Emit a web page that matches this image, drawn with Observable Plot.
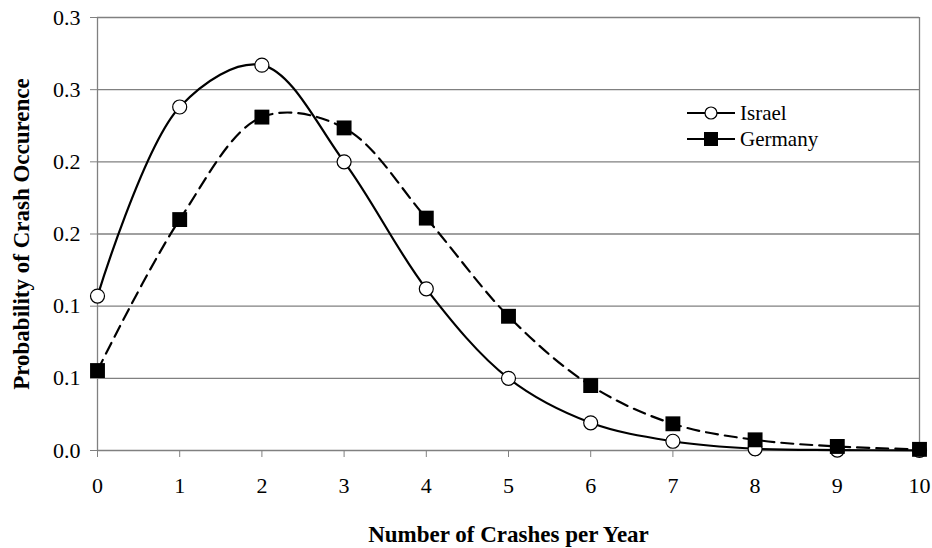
<!DOCTYPE html>
<html>
<head>
<meta charset="utf-8">
<script src="https://cdn.jsdelivr.net/npm/d3@7"></script>
<script src="https://cdn.jsdelivr.net/npm/@observablehq/plot@0.6"></script>
<style>
  html, body { margin: 0; padding: 0; background: #fff; }
  #wrap { position: relative; width: 932px; height: 548px; font-family: "Liberation Serif", "Times New Roman", serif; }
  #legend { position: absolute; left: 687px; top: 100px; font-size: 21px; color: #000; }
  .row { display: flex; align-items: center; height: 26px; }
  .row svg { margin-right: 5px; }
</style>
</head>
<body>
<div id="wrap"></div>
<script>
// ---- data ----
const crashes = [0, 1, 2, 3, 4, 5, 6, 7, 8, 9, 10];
const israel  = [0.107, 0.238, 0.267, 0.200, 0.112, 0.050, 0.0192, 0.0064, 0.0012, 0.0003, 0.0001];
const germany = [0.0554, 0.160, 0.231, 0.2235, 0.161, 0.093, 0.045, 0.0185, 0.0074, 0.0028, 0.0008];
const seriesNames = ["Israel", "Germany"];
const yTicks = [0, 0.05, 0.10, 0.15, 0.20, 0.25, 0.30];
const yTickLabels = ["0.0", "0.1", "0.1", "0.2", "0.2", "0.3", "0.3"];
const xTicks = crashes;
const xTitle = "Number of Crashes per Year";
const yTitle = "Probability of Crash Occurence";

const israelData = crashes.map((c, i) => ({x: c, y: israel[i]}));
const germanyData = crashes.map((c, i) => ({x: c, y: germany[i]}));

const grid = "#808080";

const chart = Plot.plot({
  width: 932,
  height: 548,
  marginLeft: 97,
  marginRight: 13,
  marginTop: 17,
  marginBottom: 98,
  style: {fontFamily: "'Liberation Serif', 'Times New Roman', serif", fontSize: "22px", background: "white", color: "black"},
  x: {domain: [0, 10]},
  y: {domain: [0, 0.3]},
  marks: [
    Plot.ruleY(yTicks, {stroke: grid, strokeWidth: 1.3}),
    Plot.ruleX([0, 10], {stroke: grid, strokeWidth: 1.3}),
    Plot.axisY({ticks: yTicks, tickFormat: (d, i) => yTickLabels[i], tickSize: 7, tickPadding: 10, stroke: grid, label: null, fontSize: 22}),
    Plot.axisX({ticks: xTicks, tickFormat: d => String(d), tickSize: 7, tickPadding: 20, stroke: grid, label: null, fontSize: 22}),
    Plot.line(israelData, {x: "x", y: "y", curve: "catmull-rom", stroke: "black", strokeWidth: 2.2}),
    Plot.line(germanyData, {x: "x", y: "y", curve: "catmull-rom", stroke: "black", strokeWidth: 2.2, strokeDasharray: "12,7"}),
    Plot.dot(israelData, {x: "x", y: "y", symbol: "circle", r: 7, fill: "white", stroke: "black", strokeWidth: 1.2}),
    Plot.dot(germanyData, {x: "x", y: "y", symbol: "square", r: 8.4, fill: "black", stroke: "none"}),
    Plot.text([yTitle], {frameAnchor: "left", textAnchor: "middle", lineAnchor: "middle", rotate: -90, dx: -76, fontWeight: "bold", fontSize: 23}),
    Plot.text([xTitle], {frameAnchor: "bottom", textAnchor: "middle", lineAnchor: "middle", dy: 84, fontWeight: "bold", fontSize: 23})
  ]
});

const wrap = document.getElementById("wrap");
wrap.appendChild(chart);

// legend
const legend = document.createElement("div");
legend.id = "legend";
seriesNames.forEach((name, i) => {
  const row = document.createElement("div");
  row.className = "row";
  const marker = i === 0
    ? '<circle cx="24" cy="8" r="6" fill="white" stroke="black" stroke-width="1.2"/>'
    : '<rect x="17" y="1" width="14" height="14" fill="black"/>';
  row.innerHTML = '<svg width="48" height="16"><line x1="0" x2="48" y1="8" y2="8" stroke="black" stroke-width="2.2"/>' + marker + '</svg><span>' + name + '</span>';
  legend.appendChild(row);
});
wrap.appendChild(legend);
</script>
</body>
</html>
